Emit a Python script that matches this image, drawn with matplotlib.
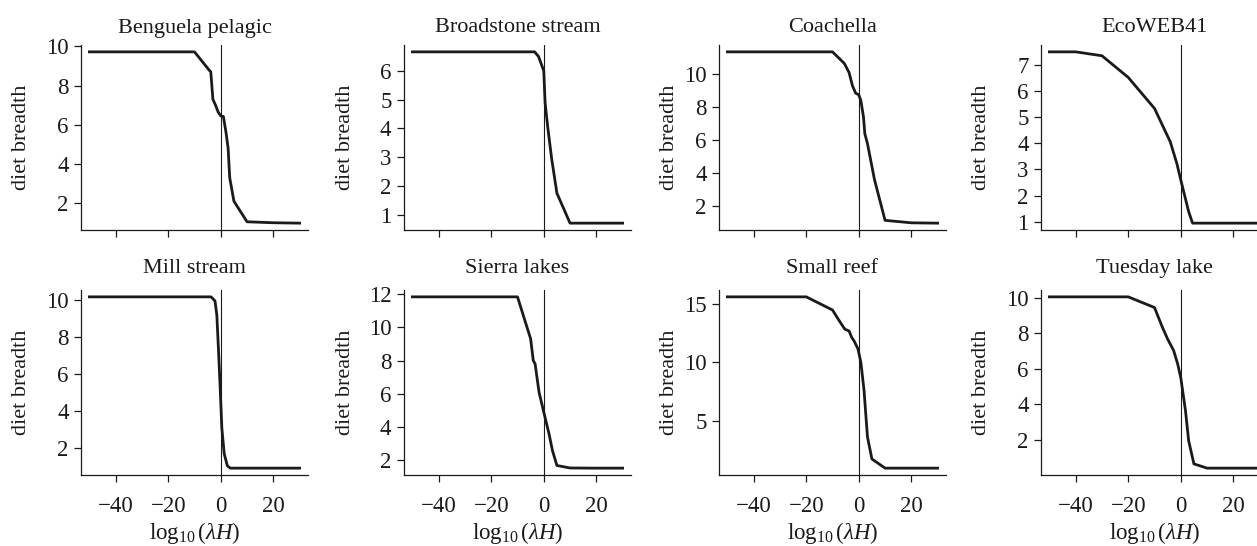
import matplotlib
matplotlib.use('Agg')
import matplotlib.pyplot as plt

plt.rcParams['font.family'] = ['Liberation Serif', 'DejaVu Serif']
plt.rcParams['mathtext.fontset'] = 'custom'
plt.rcParams['mathtext.rm'] = 'Liberation Serif'
plt.rcParams['mathtext.it'] = 'Liberation Serif:italic'
plt.rcParams['font.size'] = 16

# data, one curve per food web
names = ['Benguela pelagic', 'Broadstone stream', 'Coachella', 'EcoWEB41',
         'Mill stream', 'Sierra lakes', 'Small reef', 'Tuesday lake']

benguela_x = [-50, -10, -4.5, -3.8, -3, -2, -1, 0, 1, 2, 2.8, 3.4, 5, 10, 20, 30]
benguela_y = [9.72, 9.72, 8.8, 8.7, 7.3, 7.0, 6.65, 6.45, 6.42, 5.6, 4.8, 3.3, 2.1, 1.05, 1.0, 0.98]

broadstone_x = [-50, -3.5, -2, -1, 0, 0.5, 1.5, 3, 5, 10, 20, 30]
broadstone_y = [6.66, 6.66, 6.5, 6.25, 6.0, 4.9, 4.05, 2.95, 1.75, 0.71, 0.71, 0.71]

coachella_x = [-50, -10, -5.5, -3.7, -2.4, -1.2, 0, 0.8, 1.8, 2.3, 3.3, 6, 10, 20, 30]
coachella_y = [11.35, 11.35, 10.65, 10.1, 9.3, 8.85, 8.75, 8.4, 7.4, 6.4, 5.8, 3.6, 1.15, 1.0, 0.98]

ecoweb_x = [-50, -40, -30, -20, -10, -7, -4, -1.5, 0, 3, 4.5, 10, 20, 30]
ecoweb_y = [7.51, 7.51, 7.36, 6.53, 5.34, 4.7, 4.06, 3.23, 2.6, 1.38, 0.94, 0.94, 0.94, 0.94]

mill_x = [-50, -3.7, -2.2, -1.5, -0.9, -0.3, 0.4, 1.3, 2.5, 3.6, 10, 20, 30]
mill_y = [10.18, 10.18, 9.96, 9.2, 7.4, 5.5, 3.1, 1.7, 1.05, 0.92, 0.92, 0.92, 0.92]

sierra_x = [-50, -10, -5, -4, -3.3, -1.8, -0.9, 0, 2, 3.3, 5, 10, 20, 30]
sierra_y = [11.82, 11.82, 9.3, 8.0, 7.8, 6.1, 5.5, 4.9, 3.6, 2.6, 1.7, 1.55, 1.54, 1.54]

reef_x = [-50, -20, -10, -7.5, -5.3, -3.7, -2.7, -1.8, -0.3, 0.8, 2, 3.3, 5, 10, 20, 30]
reef_y = [15.63, 15.63, 14.5, 13.6, 12.85, 12.7, 12.15, 11.85, 11.15, 10.0, 7.6, 3.6, 1.7, 0.91, 0.91, 0.91]

tuesday_x = [-50, -20, -10, -7, -5, -2.7, -1.2, 0, 1.8, 3, 5, 10, 20, 30]
tuesday_y = [10.04, 10.04, 9.44, 8.33, 7.67, 7.02, 6.28, 5.5, 3.64, 1.96, 0.66, 0.42, 0.42, 0.42]

xs = [benguela_x, broadstone_x, coachella_x, ecoweb_x, mill_x, sierra_x, reef_x, tuesday_x]
ys = [benguela_y, broadstone_y, coachella_y, ecoweb_y, mill_y, sierra_y, reef_y, tuesday_y]

yticks = [[2, 4, 6, 8, 10], [1, 2, 3, 4, 5, 6], [2, 4, 6, 8, 10], [1, 2, 3, 4, 5, 6, 7],
          [2, 4, 6, 8, 10], [2, 4, 6, 8, 10, 12], [5, 10, 15], [2, 4, 6, 8, 10]]
xticks = [-40, -20, 0, 20]

fig = plt.figure(figsize=(12.57, 5.46), dpi=100)
W, H = 1257, 546
lefts = [81, 404, 719, 1041]
tops = [45, 290]
aw, ah = 227, 185
ylab_off = [-59, -59, -49, -59]
ink = '#1a1a1a'

for i in range(8):
    r, c = divmod(i, 4)
    ax = fig.add_axes([lefts[c] / W, 1 - (tops[r] + ah) / H, aw / W, ah / H])
    ax.plot(xs[i], ys[i], color=ink, lw=2.0, solid_joinstyle='round')
    ax.axvline(0, color=ink, lw=0.8)
    ax.margins(x=0.04, y=0.04)
    for s in ['top', 'right']:
        ax.spines[s].set_visible(False)
    for s in ['left', 'bottom']:
        ax.spines[s].set_color(ink)
        ax.spines[s].set_linewidth(0.9)
    ax.set_xticks(xticks)
    ax.set_yticks(yticks[i])
    ax.tick_params(axis='both', direction='out', length=5, width=0.9, color=ink,
                   labelcolor=ink, labelsize=16.5)
    ax.tick_params(axis='y', pad=4)
    ax.tick_params(axis='x', pad=10)
    if r == 0:
        ax.tick_params(axis='x', labelbottom=False)
    else:
        ax.text(0.5, -0.345, r'$\log_{10}(\lambda H)$', transform=ax.transAxes,
                ha='center', va='baseline', color=ink, fontsize=16.5)
    ax.set_title(names[i], pad=9 if r == 0 else 12, color=ink, fontsize=16)
    ax.text(ylab_off[c] / aw, 0.5, 'diet breadth', transform=ax.transAxes,
            rotation=90, ha='center', va='center', color=ink, fontsize=16)

fig.savefig('out.png', dpi=100)
